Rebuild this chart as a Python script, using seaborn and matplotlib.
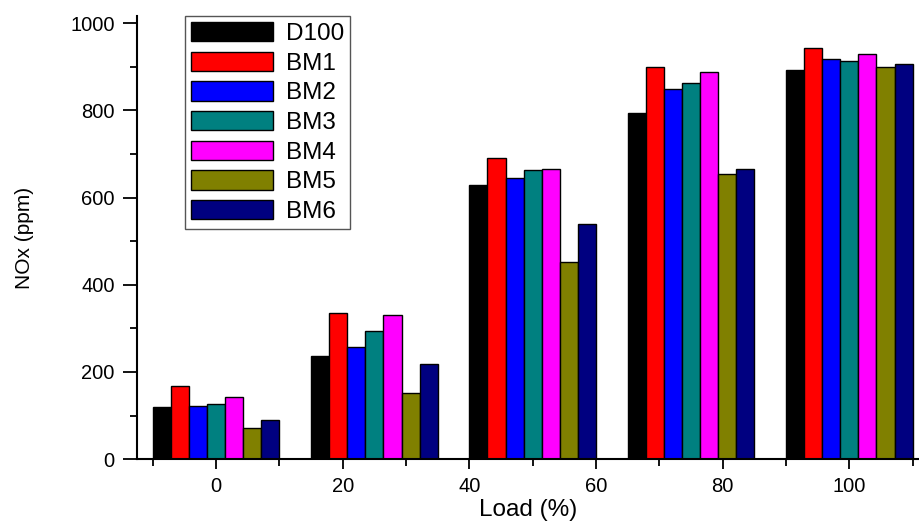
import numpy as np
import pandas as pd
import matplotlib
matplotlib.use("Agg")
import matplotlib.pyplot as plt
from matplotlib.ticker import MultipleLocator
import seaborn as sns

# Data (NOx in ppm at each engine load)
loads = [0, 25, 50, 75, 100]
fuels = ["D100", "BM1", "BM2", "BM3", "BM4", "BM5", "BM6"]
d100 = [120, 237, 630, 793, 893]
bm1 = [167, 335, 691, 899, 943]
bm2 = [122, 257, 645, 849, 918]
bm3 = [127, 295, 663, 863, 913]
bm4 = [142, 330, 666, 888, 929]
bm5 = [71, 152, 452, 654, 899]
bm6 = [89, 218, 539, 666, 907]
colors = ["#000000", "#FF0000", "#0000FF", "#008080", "#FF00FF", "#808000", "#000080"]

series = [d100, bm1, bm2, bm3, bm4, bm5, bm6]
df = pd.DataFrame({
    "Load": np.tile(loads, len(fuels)),
    "NOx": np.concatenate(series),
    "Fuel": np.repeat(fuels, len(loads)),
})

sns.set_style("ticks", {"axes.edgecolor": "black", "xtick.color": "black",
                        "ytick.color": "black", "text.color": "black",
                        "axes.labelcolor": "black"})
plt.rcParams["font.family"] = ["Liberation Sans", "DejaVu Sans"]

fig = plt.figure(figsize=(9.19, 5.26), dpi=100)
ax = fig.add_axes([0.149, 0.127, 0.851, 0.843])

sns.barplot(data=df, x="Load", y="NOx", hue="Fuel", hue_order=fuels,
            palette=colors, native_scale=True, width=0.8, saturation=1,
            edgecolor="black", linewidth=1, ax=ax)

ax.set_xlim(-12.5, 111)
ax.set_ylim(0, 1017)
ax.xaxis.set_major_locator(MultipleLocator(20))
ax.xaxis.set_minor_locator(MultipleLocator(10))
ax.yaxis.set_major_locator(MultipleLocator(200))
ax.yaxis.set_minor_locator(MultipleLocator(100))
ax.tick_params(axis="both", which="major", direction="out", width=1.3, labelsize=14.5)
ax.tick_params(axis="y", which="major", length=10, pad=6)
ax.tick_params(axis="x", which="major", length=7, pad=6)
ax.tick_params(axis="both", which="minor", direction="out", length=5, width=1.3)
sns.despine(ax=ax)
for s in ["left", "bottom"]:
    ax.spines[s].set_linewidth(1.5)

ax.set_xlabel("Load (%)", fontsize=17.5, labelpad=2)
ax.set_ylabel("NOx (ppm)", fontsize=15, labelpad=26)

leg = ax.legend(loc="upper left", bbox_to_anchor=(0.061, 1.0), borderaxespad=0,
                fontsize=17.5, handlelength=3.4, handleheight=0.85, labelspacing=0.27,
                handletextpad=0.5, borderpad=0.25, fancybox=False, framealpha=1)
leg.get_frame().set_edgecolor("#555555")
leg.get_frame().set_linewidth(1)

fig.savefig("out.png", dpi=100)
